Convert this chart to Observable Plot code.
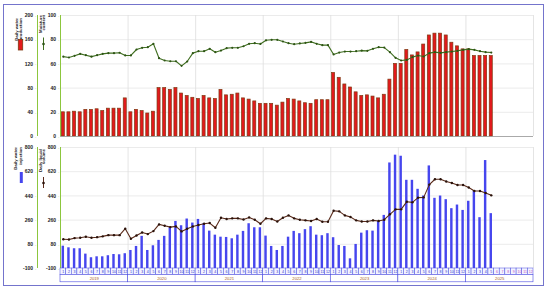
<!DOCTYPE html>
<html><head><meta charset="utf-8">
<script src="https://cdn.jsdelivr.net/npm/d3@7"></script>
<script src="https://cdn.jsdelivr.net/npm/@observablehq/plot@0.6"></script>
<style>
body{margin:0;background:#fff;}
#wrap{position:relative;width:550px;height:293px;overflow:hidden;font-family:"Liberation Sans",Arial,sans-serif;}
#wrap > .layer{position:absolute;left:0;}
#frame{position:absolute;left:3px;top:4px;width:541px;height:282px;border:1.5px solid #7474cc;box-sizing:border-box;}
</style></head><body><div id="wrap"><div id="frame"></div></div>
<script>
// ---- data ----
const years = [2019, 2020, 2021, 2022, 2023, 2024, 2025];
const monthNames = [1,2,3,4,5,6,7,8,9,10,11,12];
// Daily water production (top bars), Jan 2019 .. May 2025
const production = [40,40,41,40,44,44,45,42,46,46,46,63,
  40,44,42,38,41,80,80,77,80,71,67,64,
  62,67,63,62,77,68,69,71,63,61,58,54,
  54,54,51,56,62,61,58,55,54,60,60,60,
  105,97,86,81,73,67,68,66,63,69,94,120,
  120,143,134,139,152,167,170,170,167,155,149,144,
  144,133,133,133,133];
// Moisture content (%)
const moisture = [66,65.3,66.7,68.3,67.2,66,67.2,68.3,68.9,68.9,69.2,67,
  67,71.9,73.3,73.8,76.6,64.7,62.8,62.2,62.2,58.4,62,68.9,
  70.5,70.5,72.5,69.7,71,73,73.3,73.3,74.6,76.6,77.1,76.5,
  79.5,79.9,79.9,78.5,77.1,76.3,76.9,77.4,78.2,76.6,75.5,75.5,
  67.8,69.4,70.2,70.2,70.5,71,70.8,72.5,73.8,73.5,69.7,65,
  62.8,63.3,65.6,66.9,66.1,68.9,69.7,69.1,69.7,70.2,70.8,71.6,
  72.2,71.6,70.5,69.7,69.4];
// Daily water injection (bottom bars)
const injection = [66,54,47,47,7,-20,-13,-13,-5,4,2,10,
  34,64,139,34,69,109,139,203,250,218,268,238,
  265,233,178,148,133,131,121,148,176,233,203,203,
  141,64,34,64,133,176,159,189,211,148,144,159,
  129,71,64,-28,79,163,181,178,250,295,685,743,
  735,556,556,489,439,663,422,439,412,345,372,332,
  400,477,278,703,308];
// Daily liquid volume (bottom line)
const liquid = [118,116,126,129,136,129,133,139,148,148,148,196,
  121,146,168,156,178,228,218,208,213,176,196,213,
  223,233,238,203,278,268,273,273,265,280,263,233,
  273,268,250,278,295,273,263,258,253,268,248,248,
  330,325,295,283,258,250,250,258,253,263,303,340,
  340,397,392,427,429,524,564,564,547,536,521,521,
  502,477,477,462,444];
const prodTicks = [0, 40, 80, 120, 160, 200];
const moistTicks = [0, 20, 40, 60, 80, 100];
const bottomTicks = [-100, 80, 260, 440, 620, 800];

// ---- derived tables ----
const rows = production.map((p, i) => ({i, p, m: moisture[i], inj: injection[i], liq: liquid[i]}));
const nMonths = years.length * 12;
const yearEdges = years.map((y, k) => k * 12 - 0.5).concat([nMonths - 0.5]);
const monthCells = years.flatMap((y, k) => monthNames.map((m, j) => ({i: k * 12 + j, m, has: k * 12 + j < rows.length})));
const yearCells = years.map((y, k) => ({y, k}));

const green = "#8cc63e";
const W = 550, ML = 60, MR = 17;
const xDom = [-0.5, nMonths - 0.5];
const font = {fontFamily: "Liberation Sans, Arial, sans-serif", background: "transparent", overflow: "visible"};
const tickFont = {fontSize: 5, fontWeight: "bold", fill: "#222"};

function place(el, top) { el.classList.add("layer"); el.style.top = top + "px"; document.getElementById("wrap").appendChild(el); }

// tick labels for an axis placed `off` px left of the plot's left edge
function axisLabels(ticks, yOf, off) {
  return [
    Plot.text(ticks, {y: yOf, text: d => String(d), frameAnchor: "left", dx: -off - 4.5, textAnchor: "end", ...tickFont}),
    Plot.text(ticks, {y: yOf, text: () => "-", frameAnchor: "left", dx: -off - 2.6, fontSize: 4, fill: green})
  ];
}

// ---- top panel ----
const topPlot = Plot.plot({
  width: W, height: 150, marginTop: 15, marginBottom: 14, marginLeft: ML, marginRight: MR,
  x: {domain: xDom, axis: null},
  y: {domain: [0, 200], axis: null},
  style: font,
  marks: [
    Plot.ruleY(prodTicks, {stroke: "#e6e6e6", strokeWidth: 0.8}),
    Plot.ruleX(yearEdges, {stroke: "#dddddd", strokeWidth: 0.8}),
    Plot.rectY(rows, {x1: d => d.i - 0.5, x2: d => d.i + 0.5, y1: 0, y2: "p", insetLeft: 1.3, insetRight: 1.3, fill: "#e3191c", stroke: "#7e3a12", strokeWidth: 0.7}),
    Plot.ruleY([0], {stroke: "#999", strokeWidth: 0.8}),
    Plot.line(rows, {x: "i", y: d => d.m * 2, stroke: "#3f6e1f", strokeWidth: 1.1}),
    Plot.dot(rows, {x: "i", y: d => d.m * 2, r: 1.1, fill: "#2d5414"}),
    Plot.ruleX([xDom[0]], {stroke: green, strokeWidth: 1}),
    Plot.ruleX([xDom[0]], {stroke: green, strokeWidth: 1, dx: -23}),
    ...axisLabels(prodTicks, d => d, 23),
    ...axisLabels(moistTicks, d => d * 2, 0)
  ]
});
place(topPlot, 0);

// ---- bottom panel ----
const botPlot = Plot.plot({
  width: W, height: 130, marginTop: 7, marginBottom: 2, marginLeft: ML, marginRight: MR,
  x: {domain: xDom, axis: null},
  y: {domain: [-100, 800], axis: null},
  style: font,
  marks: [
    Plot.ruleY(bottomTicks, {stroke: "#e6e6e6", strokeWidth: 0.8}),
    Plot.ruleX(yearEdges, {stroke: "#dddddd", strokeWidth: 0.8}),
    Plot.rectY(rows, {x1: d => d.i - 0.5, x2: d => d.i + 0.5, y1: -100, y2: "inj", insetLeft: 1.6, insetRight: 1.6, fill: "#4646ee"}),
    Plot.line(rows, {x: "i", y: "liq", stroke: "#5a2a1a", strokeWidth: 1.1}),
    Plot.dot(rows, {x: "i", y: "liq", r: 1.2, fill: "#2a120a"}),
    Plot.ruleX([xDom[0]], {stroke: green, strokeWidth: 1}),
    Plot.ruleX([xDom[0]], {stroke: green, strokeWidth: 1, dx: -23}),
    ...axisLabels(bottomTicks, d => d, 23),
    ...axisLabels(bottomTicks, d => d, 0)
  ]
});
place(botPlot, 140);

// ---- month / year axis rows ----
const axPlot = Plot.plot({
  width: W, height: 15, marginTop: 0, marginBottom: 0, marginLeft: ML, marginRight: MR,
  x: {domain: xDom, axis: null},
  y: {domain: [0, 15], axis: null},
  style: font,
  marks: [
    Plot.rect(monthCells, {x1: d => d.i - 0.5, x2: d => d.i + 0.5, y1: 8.6, y2: 15, fill: "#f2f4ff", stroke: "#4b4be0", strokeWidth: 0.5}),
    Plot.text(monthCells, {x: "i", y: 11.8, text: "m", fontSize: 3.6, fill: d => d.has ? "#3030c8" : "#c050c0"}),
    Plot.rect(yearCells, {x1: d => d.k * 12 - 0.5, x2: d => d.k * 12 + 11.5, y1: 1.2, y2: 8.6, fill: "#ffffff", stroke: "#4b4be0", strokeWidth: 0.6}),
    Plot.text(yearCells, {x: d => d.k * 12 + 5.5, y: 4.9, text: d => String(d.y), fontSize: 4.2, fill: "#a8601c"})
  ]
});
place(axPlot, 268);

// ---- axis titles & swatches ----
const ov = d3.create("svg").attr("width", W).attr("height", 293)
  .style("font-family", "Liberation Sans, Arial, sans-serif");
function vtext(x, yTop, lines, gap) {
  lines.forEach((t, j) => {
    ov.append("text").attr("transform", `translate(${x + j * gap},${yTop}) rotate(-90)`)
      .attr("text-anchor", "end").attr("font-size", 4.3).attr("font-weight", "bold").attr("fill", "#222").text(t);
  });
}
vtext(17.5, 18, ["Daily water", "production"], 4.8);
ov.append("rect").attr("x", 18.3).attr("y", 39.5).attr("width", 4.4).attr("height", 10.5).attr("fill", "#e3191c").attr("stroke", "#7e3a12").attr("stroke-width", 0.8);
vtext(41.5, 15, ["Moisture", "content"], 3.8);
ov.append("line").attr("x1", 43.5).attr("x2", 43.5).attr("y1", 37.5).attr("y2", 50).attr("stroke", "#3f6e1f").attr("stroke-width", 1);
ov.append("circle").attr("cx", 43.5).attr("cy", 44).attr("r", 1.3).attr("fill", "#2d5414");
vtext(17, 147, ["Daily water", "injection"], 5);
ov.append("rect").attr("x", 19.8).attr("y", 172).attr("width", 3).attr("height", 11).attr("fill", "#4646ee");
vtext(42, 149, ["Daily liquid", "volume"], 3.4);
ov.append("line").attr("x1", 43.5).attr("x2", 43.5).attr("y1", 177).attr("y2", 188).attr("stroke", "#5a2a1a").attr("stroke-width", 1);
ov.append("circle").attr("cx", 43.5).attr("cy", 183).attr("r", 1.3).attr("fill", "#2a120a");
place(ov.node(), 0);
</script></body></html>
